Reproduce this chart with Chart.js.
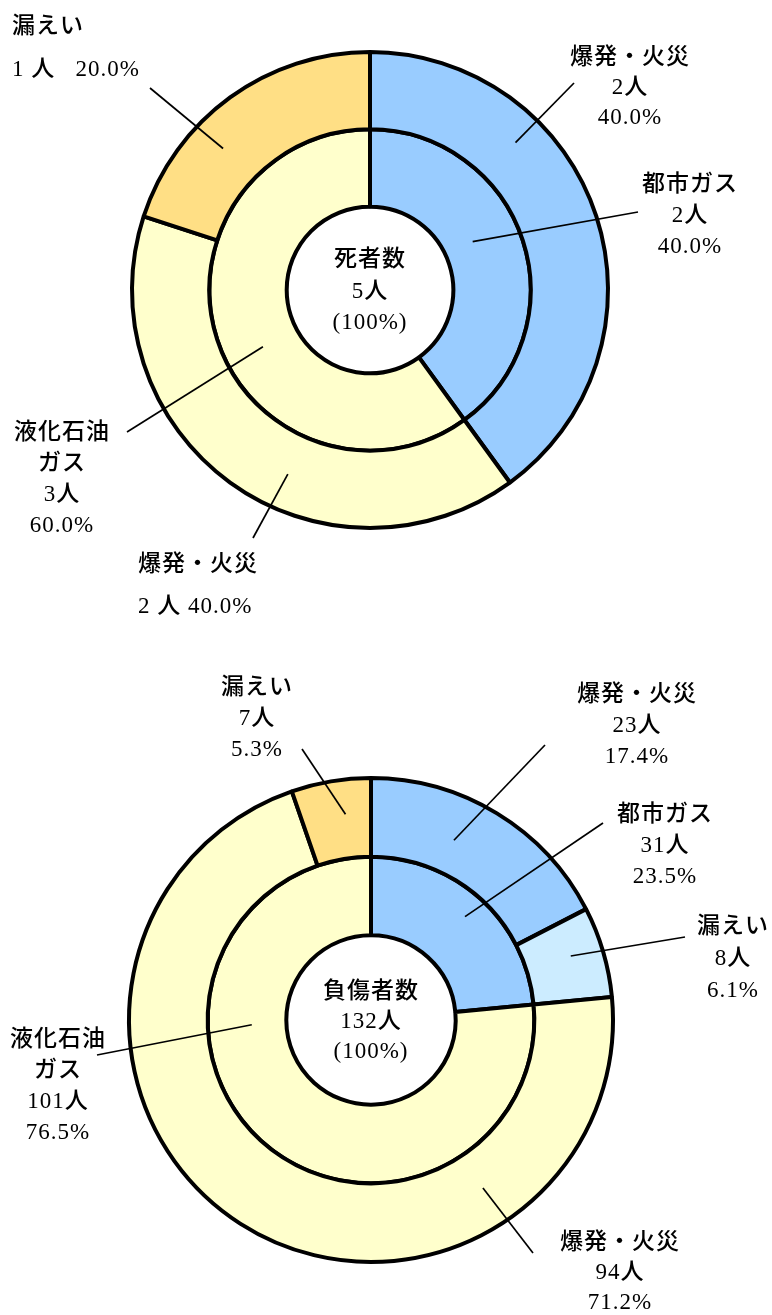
<!DOCTYPE html>
<html lang="ja">
<head>
<meta charset="utf-8">
<title>ガス事故 死者数・負傷者数</title>
<script src="https://cdn.jsdelivr.net/npm/chart.js@4.4.1/dist/chart.umd.min.js"></script>
<style>
  html, body { margin: 0; padding: 0; background: #fff; }
  #wrap { position: relative; width: 772px; height: 1315px; }
  canvas { position: absolute; left: 0; }
  #deaths { top: 0; }
  #injuries { top: 640px; }
</style>
</head>
<body>
<div id="wrap">
  <canvas id="deaths" width="772" height="640"></canvas>
  <canvas id="injuries" width="772" height="675"></canvas>
</div>
<script>
// 死者数: outer ring = 原因, inner ring = ガス種別
const deathCauseLabels = ['爆発・火災', '爆発・火災', '漏えい'];
const deathCauseValues = [2, 2, 1];
const deathGasLabels = ['都市ガス', '液化石油\nガス'];
const deathGasValues = [2, 3];
const deathCenterTitle = '死者数';

// 負傷者数
const injuryCauseLabels = ['爆発・火災', '漏えい', '爆発・火災', '漏えい'];
const injuryCauseValues = [23, 8, 94, 7];
const injuryGasLabels = ['都市ガス', '液化石油\nガス'];
const injuryGasValues = [31, 101];
const injuryCenterTitle = '負傷者数';

const BLUE = '#99CCFF';
const LIGHT_BLUE = '#CCECFF';
const YELLOW = '#FFFFCC';
const ORANGE = '#FFDF85';
const FONT = '500 23px "Liberation Serif", "Noto Sans CJK JP", serif';

const sum = a => a.reduce((s, v) => s + v, 0);
const pct = (v, arr) => (v / sum(arr) * 100).toFixed(1) + '%';

// Callout labels: text block position (relative to the ring centre),
// leader line start (fraction along the arc angle / across the ring), leader end.
const calloutPlugin = {
  id: 'callouts',
  afterDatasetsDraw(chart, args, opts) {
    const ctx = chart.ctx;
    ctx.save();
    ctx.font = FONT;
    if ('letterSpacing' in ctx) ctx.letterSpacing = '1px';
    ctx.fillStyle = '#000';
    ctx.textBaseline = 'middle';
    const arc0 = chart.getDatasetMeta(0).data[0];
    const cx = arc0.x, cy = arc0.y;

    // centre caption
    ctx.textAlign = 'center';
    const total = sum(chart.data.datasets[0].data);
    const centre = [opts.title, total + '人', '(100%)'];
    centre.forEach((t, i) => ctx.fillText(t, cx, cy + opts.centreDy[i]));

    opts.items.forEach(it => {
      const ds = chart.data.datasets[it.ds];
      const arc = chart.getDatasetMeta(it.ds).data[it.idx];
      const v = ds.data[it.idx];
      const name = ds.names[it.idx].split('\n');
      const lines = it.inline
        ? [...name, v + ' 人' + it.inline + pct(v, ds.data)]
        : [...name, v + '人', pct(v, ds.data)];
      ctx.textAlign = it.align || 'center';
      lines.forEach((t, i) => ctx.fillText(t, cx + it.tx, cy + it.ty + i * it.lh));

      const a = arc.startAngle + it.t * (arc.endAngle - arc.startAngle);
      const r = arc.innerRadius + it.f * (arc.outerRadius - arc.innerRadius);
      ctx.beginPath();
      ctx.lineWidth = 1.7;
      ctx.strokeStyle = '#000';
      ctx.moveTo(cx + r * Math.cos(a), cy + r * Math.sin(a));
      ctx.lineTo(cx + it.ex, cy + it.ey);
      ctx.stroke();
    });
    ctx.restore();
  }
};

function makeChart(id, causeNames, causeVals, causeColors, gasNames, gasVals, padding, title, centreDy, items) {
  return new Chart(document.getElementById(id), {
    type: 'doughnut',
    data: {
      datasets: [
        { data: causeVals, names: causeNames, backgroundColor: causeColors,
          borderColor: '#000', borderWidth: 4 },
        { data: gasVals, names: gasNames, backgroundColor: [BLUE, YELLOW],
          borderColor: '#000', borderWidth: 4 }
      ]
    },
    options: {
      responsive: false,
      animation: false,
      cutout: '35%',
      layout: { padding },
      plugins: {
        legend: { display: false },
        tooltip: { enabled: false },
        callouts: { title, centreDy, items }
      }
    },
    plugins: [calloutPlugin]
  });
}

makeChart('deaths',
  deathCauseLabels, deathCauseValues, [BLUE, YELLOW, ORANGE],
  deathGasLabels, deathGasValues,
  { left: 130, right: 162, top: 50, bottom: 110 },
  deathCenterTitle, [-30, 2, 33],
  [
    { ds: 0, idx: 2, tx: -358, ty: -263, lh: 43, align: 'left', inline: '   ', t: 0.36, f: 0.56, ex: -220, ey: -202 },
    { ds: 0, idx: 0, tx: 260, ty: -232, lh: 30, t: 0.31, f: 0.6, ex: 204, ey: -207 },
    { ds: 1, idx: 0, tx: 320, ty: -105, lh: 31, t: 0.45, f: 0.39, ex: 268, ey: -78 },
    { ds: 1, idx: 1, tx: -308, ty: 143, lh: 31, t: 0.454, f: 0.49, ex: -243, ey: 142 },
    { ds: 0, idx: 1, tx: -232, ty: 275, lh: 42, align: 'left', inline: ' ', t: 0.417, f: 0.53, ex: -117, ey: 248 }
  ]);

makeChart('injuries',
  injuryCauseLabels, injuryCauseValues, [BLUE, LIGHT_BLUE, YELLOW, ORANGE],
  injuryGasLabels, injuryGasValues,
  { left: 127, right: 157, top: 136, bottom: 51 },
  injuryCenterTitle, [-28, 2, 32],
  [
    { ds: 0, idx: 3, tx: -114, ty: -332, lh: 31, t: 0.63, f: 0.56, ex: -69, ey: -271 },
    { ds: 0, idx: 0, tx: 266, ty: -325, lh: 31, t: 0.395, f: 0.44, ex: 174, ey: -275 },
    { ds: 1, idx: 0, tx: 294, ty: -205, lh: 31, t: 0.5, f: 0.7, ex: 232, ey: -197 },
    { ds: 0, idx: 1, tx: 362, ty: -93, lh: 32, t: 0.436, f: 0.59, ex: 314, ey: -83 },
    { ds: 1, idx: 1, tx: -313, ty: 20, lh: 31, t: 0.665, f: 0.44, ex: -274, ey: 35 },
    { ds: 0, idx: 2, tx: 249, ty: 223, lh: 30, t: 0.241, f: 0.49, ex: 162, ey: 233 }
  ]);
</script>
</body>
</html>
